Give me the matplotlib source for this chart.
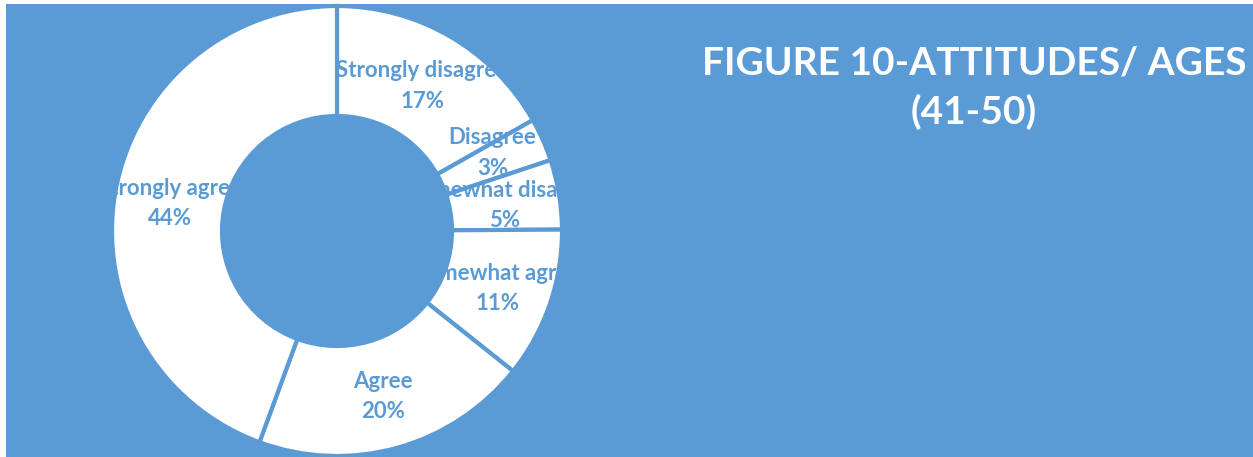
import matplotlib
matplotlib.use("Agg")
import matplotlib.pyplot as plt
from matplotlib.patches import Wedge
import numpy as np

categories = ["Strongly disagree", "Disagree", "Somewhat disagree",
              "Somewhat agree", "Agree", "Strongly agree"]
values = [16.8, 3.1, 5.0, 10.8, 19.9, 44.4]
title_lines = ["FIGURE 10-ATTITUDES/ AGES", "(41-50)"]

BLUE = "#5B9BD5"
W, H = 1253, 457
fig = plt.figure(figsize=(W / 100, H / 100), dpi=100, facecolor="white")

bg = fig.add_axes([6 / W, 0, 1 - 6 / W, 1 - 4 / H], zorder=0)
bg.set_facecolor(BLUE)
bg.set_xticks([]); bg.set_yticks([])
for s in bg.spines.values():
    s.set_visible(False)

ax = fig.add_axes([0, 0, 1, 1], zorder=1)
ax.patch.set_alpha(0)

cx, cy, R = 337, H - 231, 225
width = 110
wedges, _ = ax.pie(values, startangle=90, counterclock=False,
                   center=(cx, cy), radius=R, frame=True,
                   colors=["white"] * len(values),
                   wedgeprops=dict(width=width, edgecolor=BLUE, linewidth=3))
ax.set_xlim(0, W)
ax.set_ylim(0, H)
ax.set_aspect("equal")
ax.axis("off")

# clip region: the whole ring
ring = Wedge((cx, cy), R, 0, 360, width=width, transform=ax.transData)

# small label nudges (pixels) like the spreadsheet's automatic placement
nudge = {"Disagree": 11}

rmid = R - width / 2
for w, name, v in zip(wedges, categories, values):
    ang = np.deg2rad((w.theta1 + w.theta2) / 2)
    x = cx + rmid * np.cos(ang)
    y = cy + rmid * np.sin(ang) + nudge.get(name, 0) - 2
    t = ax.text(x, y, f"{name}\n{v:.0f}%", ha="center", va="center",
                color=BLUE, fontsize=16, fontweight="bold", family="Lato",
                linespacing=1.55, zorder=3)
    t.set_clip_path(ring)

for i, line in enumerate(title_lines):
    fig.text(974 / W, 1 - (63 + 49 * i) / H, line, ha="center", va="center",
             color="white", fontsize=28, fontweight="bold", family="Lato")

fig.savefig("out.png", dpi=100, facecolor="white")
